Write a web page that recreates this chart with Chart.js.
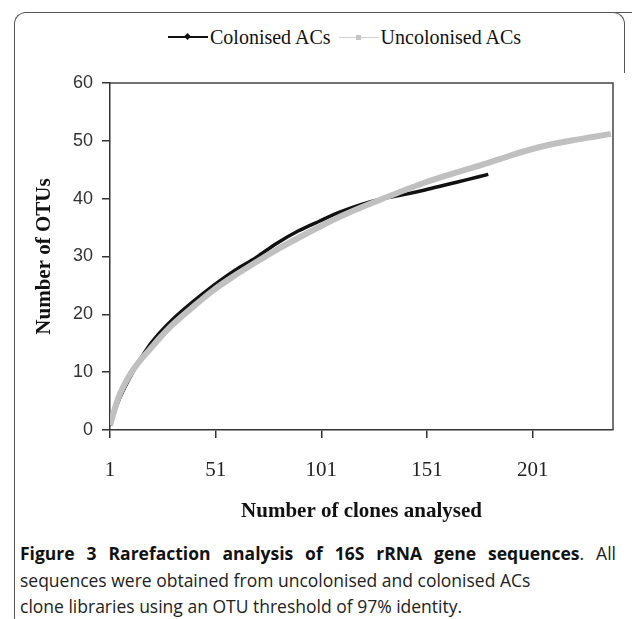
<!DOCTYPE html>
<html>
<head>
<meta charset="utf-8">
<script src="https://cdn.jsdelivr.net/npm/chart.js@4.4.1/dist/chart.umd.min.js"></script>
<style>
  html, body { margin: 0; padding: 0; background: #fff; }
  body { width: 632px; height: 619px; position: relative; overflow: hidden; }
  .card { position: absolute; left: 14px; top: 12px; width: 640px; height: 616px;
          border-left: 1px solid #555; border-top: 1px solid #555; border-radius: 12px 0 0 12px; }
  .corner { position: absolute; left: 600px; top: 12px; width: 24px; height: 60px;
            border-top: 1px solid #555; border-right: 1px solid #555; border-radius: 0 12px 0 0; }
  .chart-box { position: absolute; left: 0; top: 0; width: 632px; height: 530px; }
  .legend { position: absolute; left: 168px; top: 25px; height: 24px; display: flex; align-items: center;
            font: 20px "Liberation Serif", serif; color: #111; white-space: nowrap; }
  .legend .item { display: flex; align-items: center; }
  .legend .swatch { position: relative; width: 40px; height: 2px; margin-right: 2px; }
  .legend .mk { position: absolute; left: 17px; top: -2px; width: 5px; height: 5px; }
  .legend .dark  { background: #111; }
  .legend .dark .mk  { background: #111; transform: rotate(45deg); }
  .legend .light { background: #d0d0d0; height: 1px; margin-left: 8px; }
  .legend .light .mk { background: #c4c4c4; }
  .caption { position: absolute; left: 20px; top: 540px; width: 596px; font: 17.5px "Open Sans", sans-serif;
             line-height: 26.5px; color: #222; white-space: nowrap; }
  .caption .first { display: block; text-align: justify; text-align-last: justify; }
  .caption b { color: #111; }
</style>
</head>
<body>
<div class="card"></div>
<div class="corner"></div>

<div class="legend">
  <div class="item"><span class="swatch dark"><span class="mk"></span></span>Colonised ACs</div>
  <div class="item"><span class="swatch light"><span class="mk"></span></span>Uncolonised ACs</div>
</div>

<div class="chart-box"><canvas id="chart" width="632" height="530"></canvas></div>

<div class="caption">
  <span class="first"><b>Figure 3 Rarefaction analysis of 16S rRNA gene sequences</b>. All</span>
  sequences were obtained from uncolonised and colonised ACs<br>
  clone libraries using an OTU threshold of 97% identity.
</div>

<script>
// ── Datos ────────────────────────────────────────────────────────────────────
const clonesColonised = [1, 5, 10, 15, 20, 25, 30, 40, 50, 60, 70, 80, 90, 100,
                         110, 120, 130, 140, 150, 160, 170, 180];
const otusColonised   = [0.8, 5.0, 8.8, 12.0, 14.8, 17.0, 18.9, 22.1, 25.0, 27.6, 29.8, 32.3, 34.4, 36.1,
                         37.7, 39.0, 40.0, 40.7, 41.5, 42.4, 43.3, 44.2];

const clonesUncolonised = [1, 5, 10, 15, 20, 25, 30, 40, 50, 60, 70, 80, 90, 100,
                           110, 120, 130, 140, 150, 160, 170, 180, 190, 200, 210, 220, 230, 238];
const otusUncolonised   = [0.8, 5.6, 9.3, 11.9, 14.0, 16.1, 18.0, 21.2, 24.2, 26.7, 29.0, 31.2, 33.2, 35.1,
                           36.9, 38.5, 40.0, 41.4, 42.8, 44.0, 45.1, 46.2, 47.4, 48.5, 49.4, 50.1, 50.7, 51.2];

const xTickValues = [1, 51, 101, 151, 201];
const yTickValues = [0, 10, 20, 30, 40, 50, 60];

const toPoints = (xs, ys) => xs.map((x, i) => ({ x, y: ys[i] }));

// marco superior y derecho del área de trazado
const plotFrame = {
  id: 'plotFrame',
  beforeDatasetsDraw(chart) {
    const { ctx, chartArea: a } = chart;
    ctx.save();
    ctx.strokeStyle = '#444';
    ctx.lineWidth = 1.5;
    ctx.beginPath();
    ctx.moveTo(a.left, a.top);
    ctx.lineTo(a.right, a.top);
    ctx.lineTo(a.right, a.bottom);
    ctx.stroke();
    ctx.restore();
  },
};

new Chart(document.getElementById('chart'), {
  type: 'line',
  plugins: [plotFrame],
  data: {
    datasets: [
      {
        label: 'Colonised ACs',
        data: toPoints(clonesColonised, otusColonised),
        borderColor: '#111', borderWidth: 3.5,
        pointRadius: 0, cubicInterpolationMode: 'monotone',
        order: 1,
      },
      {
        label: 'Uncolonised ACs',
        data: toPoints(clonesUncolonised, otusUncolonised),
        borderColor: '#c0c0c0', borderWidth: 6,
        pointRadius: 0, cubicInterpolationMode: 'monotone',
        order: 0,
      },
    ],
  },
  options: {
    responsive: false,
    animation: false,
    layout: { padding: { left: 32, right: 19, top: 83, bottom: 6 } },
    plugins: { legend: { display: false }, tooltip: { enabled: false } },
    scales: {
      x: {
        type: 'linear', min: 1, max: 239,
        afterFit: s => { s.height = 94; },
        afterBuildTicks: s => { s.ticks = xTickValues.map(v => ({ value: v })); },
        border: { display: true, color: '#333', width: 1.5 },
        grid: { drawOnChartArea: false, color: '#333', tickLength: 8, lineWidth: 1.5 },
        ticks: { color: '#222', padding: 20, maxRotation: 0,
                 font: { family: '"Liberation Serif", serif', size: 21 } },
        title: { display: true, text: 'Number of clones analysed', color: '#111',
                 padding: { top: 0, bottom: 0 },
                 font: { family: '"Liberation Serif", serif', size: 21, weight: 'bold' } },
      },
      y: {
        min: 0, max: 60,
        afterFit: s => { s.width = 78; },
        afterBuildTicks: s => { s.ticks = yTickValues.map(v => ({ value: v })); },
        border: { display: true, color: '#333', width: 1.5 },
        grid: { drawOnChartArea: false, color: '#333', tickLength: 8, lineWidth: 1.5 },
        ticks: { color: '#333', padding: 9,
                 font: { family: '"Liberation Sans", sans-serif', size: 18 } },
        title: { display: true, text: 'Number of OTUs', color: '#111',
                 padding: { top: 0, bottom: 0 },
                 font: { family: '"Liberation Serif", serif', size: 21, weight: 'bold' } },
      },
    },
  },
});
</script>
</body>
</html>
